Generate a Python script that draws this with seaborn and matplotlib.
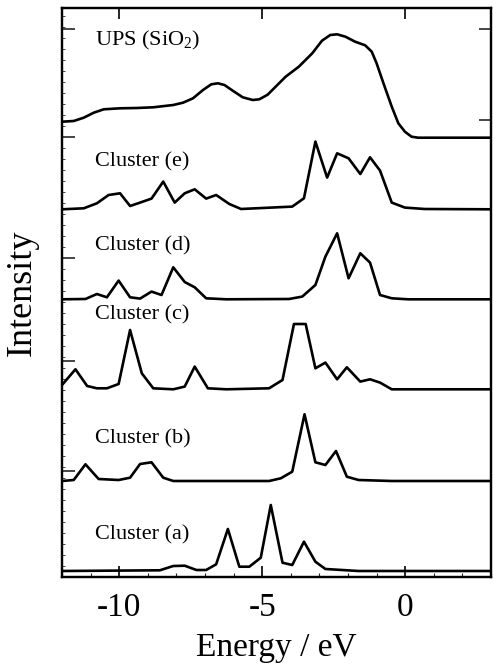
import matplotlib
matplotlib.use("Agg")
import matplotlib.pyplot as plt
import seaborn as sns
import pandas as pd
from matplotlib.ticker import MultipleLocator, FixedLocator

# ---------------- data (energy in eV, intensity in arbitrary units) ----------------
ups_energy = [-12.0, -11.59, -11.24, -10.89, -10.54, -9.97, -9.39, -8.81, -8.11, -7.77,
              -7.42, -7.07, -6.78, -6.55, -6.32, -6.03, -5.68, -5.33, -5.10, -4.81,
              -4.53, -4.18, -3.72, -3.25, -2.91, -2.62, -2.38, -2.09, -1.75, -1.40,
              -1.17, -1.00, -0.76, -0.47, -0.24, -0.01, 0.22, 0.45, 3.0]
ups_int = [16.3, 17.0, 20.3, 25.3, 28.7, 29.7, 30.0, 30.7, 33.0, 35.3,
           39.7, 48.0, 53.7, 54.7, 53.0, 47.3, 40.7, 38.0, 38.7, 43.3,
           51.3, 61.3, 71.3, 84.7, 97.3, 103.0, 103.7, 101.3, 96.3, 92.7,
           86.3, 74.7, 54.7, 31.3, 14.7, 6.3, 1.3, 0.3, 0.3]

e_energy = [-12.0, -11.24, -10.78, -10.37, -9.97, -9.62, -9.27, -8.87, -8.46, -8.06,
            -7.71, -7.36, -6.96, -6.61, -6.15, -5.74, -3.95, -3.54, -3.14, -2.73,
            -2.38, -1.98, -1.57, -1.23, -0.88, -0.47, -0.01, 0.68, 3.0]
e_int = [0, 1, 6, 14.3, 16, 3.3, 6.7, 10.7, 27.7, 6.7,
         16, 20, 10.7, 14.3, 5.3, 0.3, 2.7, 11, 67.7, 31.7,
         56, 51, 35.3, 52, 38.7, 6.7, 1.7, 0.3, 0]

d_energy = [-12.0, -11.18, -10.78, -10.43, -10.02, -9.62, -9.27, -8.87, -8.52, -8.11,
            -7.71, -7.36, -6.96, -6.26, -4.06, -3.60, -3.14, -2.79, -2.38, -1.98,
            -1.57, -1.23, -0.88, -0.47, 0.10, 3.0]
d_int = [0, 0.3, 5.3, 2, 18.7, 2, 0.7, 7.7, 4.3, 32,
         17.3, 12, 1, 0, 0.3, 2.7, 14.3, 42.7, 66, 21,
         46, 36.7, 4.3, 1, 0, 0]

c_energy = [-12.0, -11.53, -11.12, -10.78, -10.43, -10.02, -9.62, -9.21, -8.81, -8.11,
            -7.71, -7.36, -6.90, -6.26, -4.76, -4.29, -3.89, -3.48, -3.14, -2.79,
            -2.38, -2.04, -1.57, -1.23, -0.88, -0.47, 3.0]
c_int = [4.3, 20, 3.3, 1, 1, 5.3, 59.3, 16, 1, 0,
         2.7, 22.7, 1, 0, 1, 9.3, 65.3, 65.3, 21, 26.7,
         10, 22, 7.7, 10, 6.7, 0, 0]

b_energy = [-12.0, -11.59, -11.18, -10.72, -10.02, -9.62, -9.27, -8.87, -8.46, -8.11,
            -4.76, -4.35, -3.95, -3.52, -3.14, -2.79, -2.42, -2.04, -1.63, -0.47, 3.0]
b_int = [0, 1, 16.7, 2, 1, 3.3, 17, 18.7, 3.3, 0,
         0, 2.7, 9.3, 66.7, 18.7, 16, 30, 4.3, 1, 0, 0]

a_energy = [-12.0, -8.58, -8.11, -7.71, -7.30, -6.96, -6.61, -6.20, -5.80, -5.45,
            -5.05, -4.70, -4.29, -3.95, -3.54, -3.14, -2.79, -1.63, 3.0]
a_int = [0, 0.7, 5, 5.3, 1, 1, 6.7, 42, 4.3, 4.3,
         13.3, 66, 8.3, 6, 29.3, 9.3, 2, 0, 0]

labels = ["UPS (SiO$_2$)", "Cluster (e)", "Cluster (d)", "Cluster (c)", "Cluster (b)", "Cluster (a)"]
offsets = [439, 367.7, 277.7, 187.7, 96, 6]
label_y = [537, 415, 331, 262, 138, 42]
label_x = -10.83

x_ticks = [-10, -5, 0]
x_tick_labels = ["-10", "-5", "0"]

series = [(ups_energy, ups_int), (e_energy, e_int), (d_energy, d_int),
          (c_energy, c_int), (b_energy, b_int), (a_energy, a_int)]

# ---------------- style ----------------
sns.set_theme(style="ticks")
plt.rcParams["font.family"] = ["Liberation Serif", "DejaVu Serif"]
plt.rcParams["mathtext.fontset"] = "custom"
plt.rcParams["mathtext.rm"] = "Liberation Serif"
plt.rcParams["mathtext.it"] = "Liberation Serif"
plt.rcParams["mathtext.default"] = "regular"
plt.rcParams["axes.unicode_minus"] = False

fig = plt.figure(figsize=(4.93, 6.64), dpi=100)
ax = fig.add_axes([62 / 493, 87 / 664, 429 / 493, 569 / 664])

for (en, it), lab, off in zip(series, labels, offsets):
    df = pd.DataFrame({"Energy": en, "Intensity": [v + off for v in it]})
    sns.lineplot(data=df, x="Energy", y="Intensity", ax=ax, color="black",
                 linewidth=1.9, sort=False, estimator=None)

for lab, ly in zip(labels, label_y):
    ax.text(label_x, ly, lab, fontsize=16, va="center", ha="left", color="black")

ax.set_xlim(-12, 3)
ax.set_ylim(0, 569)

ax.set_xticks(x_ticks)
ax.set_xticklabels(x_tick_labels)
ax.xaxis.set_minor_locator(MultipleLocator(1))
ax.tick_params(axis="x", which="major", direction="in", length=8, width=1.2,
               top=True, bottom=True, labelsize=24, pad=11, colors="black")
ax.tick_params(axis="x", which="minor", direction="in", length=3, width=0.8,
               top=False, bottom=True)

ax.set_yticks([548, 440, 319, 216, 106])
ax.set_yticklabels([])
ax.yaxis.set_minor_locator(MultipleLocator(11))
ax.tick_params(axis="y", which="major", direction="in", length=9, width=1.2,
               left=True, right=False)
ax.tick_params(axis="y", which="minor", direction="in", length=2, width=0.6,
               left=True, right=False)

ax2 = ax.twinx()
ax2.set_ylim(ax.get_ylim())
ax2.yaxis.set_major_locator(FixedLocator([548, 457]))
ax2.set_yticklabels([])
ax2.tick_params(axis="y", direction="in", length=9, width=1.2, right=True, left=False)

for a in (ax, ax2):
    for s in a.spines.values():
        s.set_linewidth(1.6)
        s.set_color("black")

ax.set_xlabel("Energy / eV", fontsize=24, labelpad=7, color="black")
ax.set_ylabel("Intensity", fontsize=26, labelpad=13, color="black")

fig.savefig("out.png", dpi=100)
